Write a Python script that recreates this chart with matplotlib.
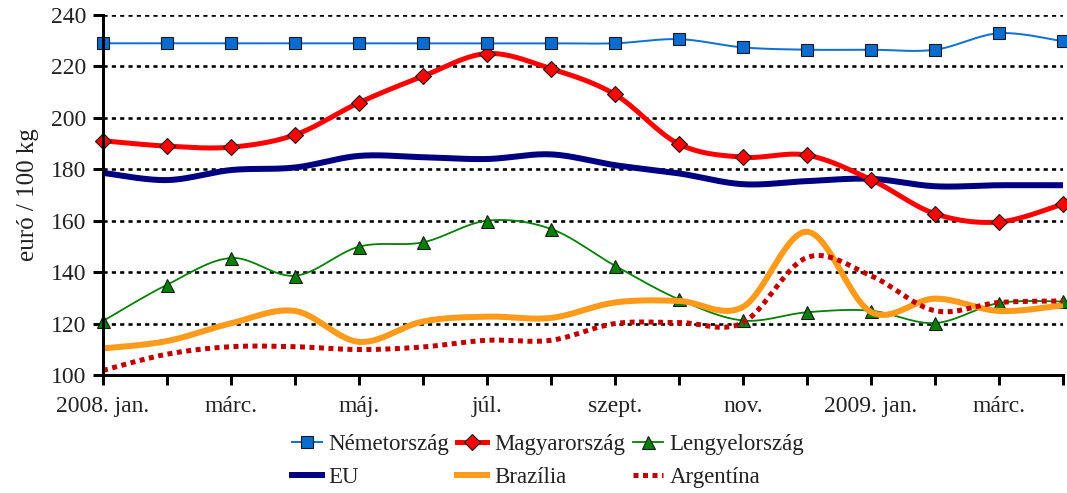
import numpy as np
import matplotlib
matplotlib.use("Agg")
import matplotlib.pyplot as plt
from matplotlib.lines import Line2D

plt.rcParams['font.family'] = ['Liberation Serif', 'DejaVu Serif']

months = ["2008. jan.", "", "márc.", "", "máj.", "", "júl.", "", "szept.", "",
          "nov.", "", "2009. jan.", "", "márc.", ""]

nemetorszag = [229, 229, 229, 229, 229, 229, 229, 229, 229, 230.6, 227.4, 226.5, 226.5, 226.5, 232.9, 229.8]
magyarorszag = [191.1, 189.0, 188.6, 193.4, 205.9, 216.2, 225.0, 219.1, 209.1, 189.8, 184.7, 185.5, 176.0, 162.7, 159.5, 166.5]
lengyelorszag = [121.0, 135.1, 145.5, 138.6, 149.9, 151.6, 160.0, 156.8, 142.5, 129.4, 121.2, 124.4, 125.0, 120.2, 128.0, 128.6]
eu = [178.6, 175.8, 179.7, 180.7, 185.2, 184.7, 184.0, 185.8, 181.6, 178.4, 174.2, 175.4, 176.3, 173.4, 173.8, 173.8]
brazilia = [110.3, 113.2, 120.1, 124.9, 112.9, 120.8, 122.7, 122.2, 128.2, 128.8, 126.5, 155.7, 124.5, 129.7, 124.9, 127.1]
argentina = [101.8, 108.1, 111.0, 111.0, 109.9, 110.9, 113.5, 113.5, 120.0, 120.4, 120.4, 145.7, 138.6, 125.0, 128.2, 128.8]


def smooth(xs, ys, n=30):
    """Catmull-Rom style cubic Bezier through the points (like Excel smoothing)."""
    xs = np.asarray(xs, float)
    ys = np.asarray(ys, float)
    P = np.column_stack([xs, ys])
    out = []
    for i in range(len(P) - 1):
        p0 = P[i - 1] if i > 0 else P[i]
        p1 = P[i]
        p2 = P[i + 1]
        p3 = P[i + 2] if i + 2 < len(P) else P[i + 1]
        c1 = p1 + (p2 - p0) / 6.0
        c2 = p2 - (p3 - p1) / 6.0
        t = np.linspace(0, 1, n, endpoint=(i == len(P) - 2))[:, None]
        b = ((1 - t) ** 3) * p1 + 3 * ((1 - t) ** 2) * t * c1 + 3 * (1 - t) * t ** 2 * c2 + t ** 3 * p2
        out.append(b)
    out = np.vstack(out)
    return out[:, 0], out[:, 1]


x = np.arange(len(months))

fig = plt.figure(figsize=(10.67, 4.93), dpi=100)
ax = fig.add_axes([103 / 1067, (493 - 375) / 493, (1063 - 103) / 1067, (375 - 15) / 493])

px = 0.72  # points per pixel

# grid
for v in range(120, 241, 20):
    ax.axhline(v, color='black', lw=2.6 * px, ls=(0, (1.6, 1.6)), zorder=1)

series = [
    ("EU", eu, dict(color='#000080', lw=6 * px), None, 2),
    ("Lengyelország", lengyelorszag, dict(color='#008000', lw=1.8 * px), dict(marker='^', ms=13 * px, mfc='#008000', mec='#1a1a1a', mew=0.8), 3),
    ("Brazília", brazilia, dict(color='#FF9A1A', lw=6 * px), None, 4),
    ("Argentína", argentina, dict(color='#C00000', lw=5 * px, ls=(0, (1, 0.9)), dash_capstyle='butt'), None, 5),
    ("Magyarország", magyarorszag, dict(color='#FF0000', lw=5 * px), dict(marker='D', ms=12 * px, mfc='#FF0000', mec='#1a1a1a', mew=0.8), 6),
    ("Németország", nemetorszag, dict(color='#1172D4', lw=2 * px), dict(marker='s', ms=11.5 * px, mfc='#0A6CD0', mec='#1a1a1a', mew=0.8), 7),
]

handles = {}
for name, vals, lstyle, mstyle, z in series:
    sx, sy = smooth(x, vals)
    ax.plot(sx, sy, zorder=z, clip_on=False, solid_capstyle='butt', **lstyle)
    if mstyle:
        ax.plot(x, vals, ls='none', zorder=z + 0.5, clip_on=False, **mstyle)
    h = Line2D([], [], **lstyle, **(mstyle or {}))
    handles[name] = h

ax.set_xlim(0, 15)
ax.set_ylim(100, 240)
ax.set_yticks(range(100, 241, 20))
ax.set_xticks(x)
ax.set_xticklabels(months)

for s in ['top', 'right']:
    ax.spines[s].set_visible(False)
for s in ['left', 'bottom']:
    ax.spines[s].set_linewidth(3 * px)
    ax.spines[s].set_zorder(8)

ax.tick_params(axis='both', labelsize=17, colors='black', width=3 * px, length=10 * px, direction='out')
ax.tick_params(axis='x', pad=8)
ax.tick_params(axis='y', pad=5)
for lbl in ax.get_xticklabels() + ax.get_yticklabels():
    lbl.set_color('#222222')

ax.set_ylabel("euró / 100 kg", fontsize=18, color='#222222', labelpad=8)

order = ["Németország", "EU", "Magyarország", "Brazília", "Lengyelország", "Argentína"]
leg = fig.legend([handles[n] for n in order], order, ncol=3, loc='center',
                 bbox_to_anchor=(548 / 1067, 1 - 461 / 493), frameon=False,
                 fontsize=16.5, handlelength=1.3, handletextpad=0.3, columnspacing=0.35,
                 labelspacing=0.5)
for t in leg.get_texts():
    t.set_color('#222222')

fig.savefig("out.png", dpi=100)
